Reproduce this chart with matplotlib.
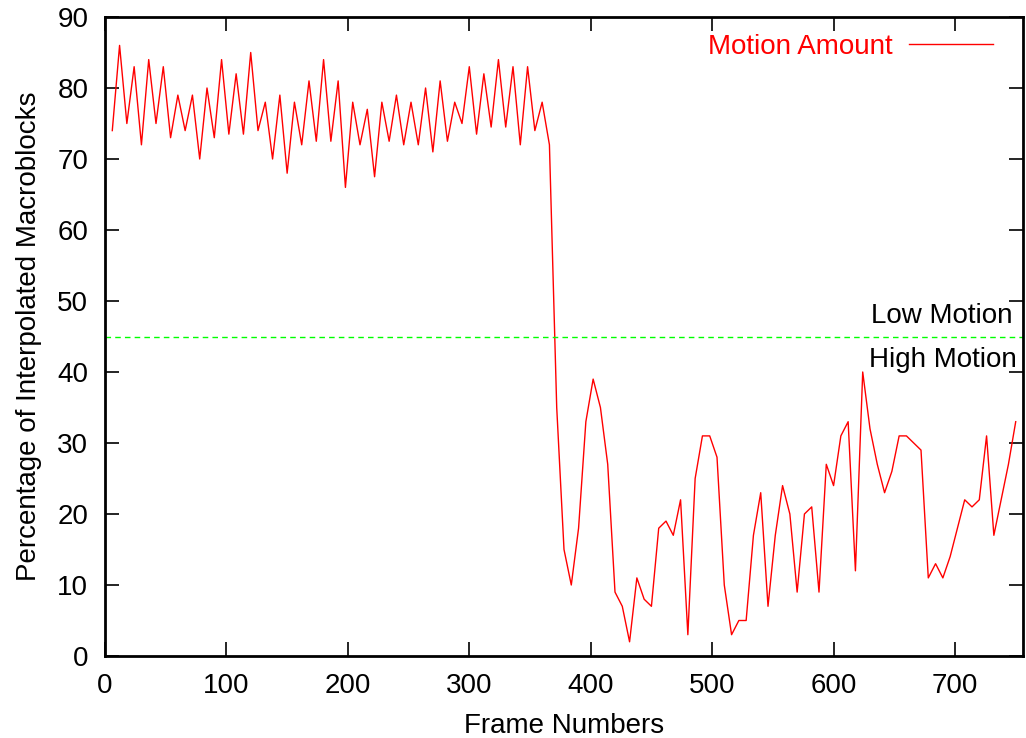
import numpy as np
import matplotlib.pyplot as plt

plt.rcParams['font.family'] = ['Liberation Sans', 'DejaVu Sans']

# frames sampled every 6 frames
frames = np.arange(6, 751, 6)
motion = [74, 86, 75, 83, 72, 84, 75, 83, 73, 79,
          74, 79, 70, 80, 73, 84, 73.5, 82, 73.5, 85,
          74, 78, 70, 79, 68, 78, 72, 81, 72.5, 84,
          72.5, 81, 66, 78, 72, 77, 67.5, 78, 72.5, 79,
          72, 78, 72, 80, 71, 81, 72.5, 78, 75, 83,
          73.5, 82, 74.5, 84, 74.5, 83, 72, 83, 74, 78,
          72,
          35, 15, 10, 18, 33, 39, 35, 27, 9, 7,
          2, 11, 8, 7, 18, 19, 17, 22, 3, 25,
          31, 31, 28, 10, 3, 5, 5, 17, 23, 7,
          17, 24,
          20, 9, 20, 21, 9, 27, 24, 31, 33, 12,
          40, 32, 27, 23, 26, 31, 31, 30, 29, 11,
          13, 11, 14, 18, 22, 21, 22, 31, 17, 22,
          27, 33]
threshold = 45

fig = plt.figure(figsize=(10.26, 7.38), dpi=100)
ax = fig.add_axes([105/1026, 1 - 656/738, 918/1026, 639/738])

ax.plot(frames, motion, color='#ff0000', lw=1, label='Motion Amount')
ax.axhline(threshold, color='#00ff00', lw=1, ls=(0, (4, 3)))
ax.text(0.989, 46.0, 'Low Motion', ha='right', va='bottom', fontsize=20,
        transform=ax.get_yaxis_transform())
ax.text(0.9935, 43.5, 'High Motion', ha='right', va='top', fontsize=20,
        transform=ax.get_yaxis_transform())

ax.set_xlim(0, 756)
ax.set_ylim(0, 90)
ax.set_xticks(range(0, 701, 100))
ax.set_yticks(range(0, 91, 10))
ax.tick_params(direction='in', length=10, width=1.2, labelsize=20,
               top=True, right=True, pad=12)
for s in ax.spines.values():
    s.set_linewidth(2)

ax.set_xlabel('Frame Numbers', fontsize=20, labelpad=10)
ax.set_ylabel('Percentage of Interpolated Macroblocks', fontsize=20, labelpad=11)

ax.legend(loc='upper right', frameon=False, markerfirst=False, fontsize=20,
          labelcolor='#ff0000', handlelength=3.0, handletextpad=0.6,
          borderaxespad=0, bbox_to_anchor=(0.979, 0.991))

fig.savefig('out.png', dpi=100)
